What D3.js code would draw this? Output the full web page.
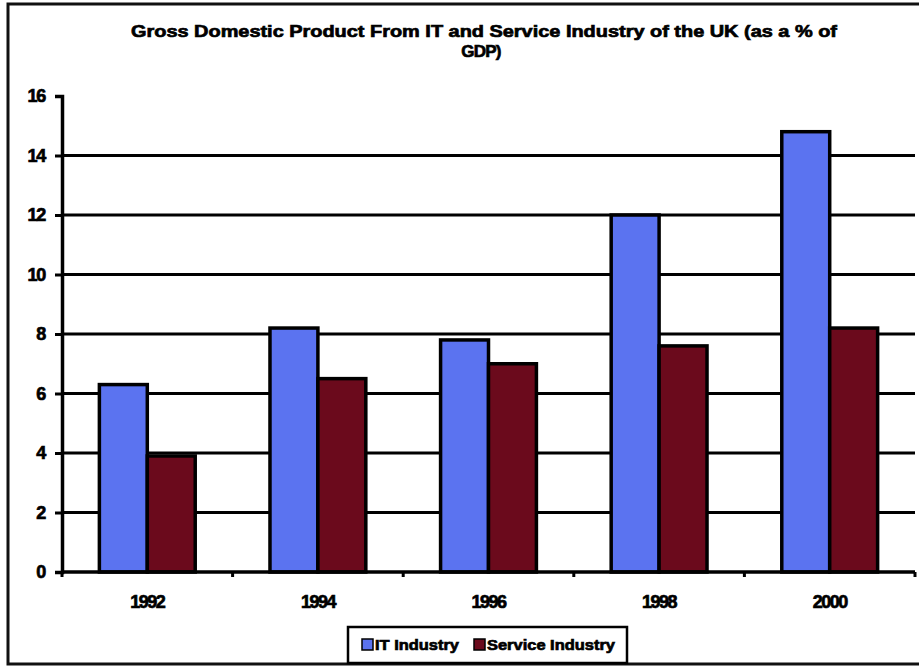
<!DOCTYPE html>
<html>
<head>
<meta charset="utf-8">
<script src="https://cdn.jsdelivr.net/npm/d3@7"></script>
<style>
  body { margin: 0; background: #fff; }
  text { font-family: "Liberation Sans", Arial, sans-serif; font-weight: bold; fill: #000; stroke: #000; stroke-width: 0.7px; }
</style>
</head>
<body>
<div id="chart"></div>
<script>
"use strict";

// Data
const years = ["1992", "1994", "1996", "1998", "2000"];
const seriesNames = ["IT Industry", "Service Industry"];
const itValues = [6.3, 8.2, 7.8, 12, 14.8];
const serviceValues = [3.9, 6.5, 7.0, 7.6, 8.2];
const yTicks = [0, 2, 4, 6, 8, 10, 12, 14, 16];

const colors = ["#5b73f0", "#6b0a1c"];

const width = 919;
const height = 667;
const margin = { top: 96, right: 4, bottom: 95, left: 62 };

const svg = d3.select("#chart")
  .append("svg")
  .attr("width", width)
  .attr("height", height);

// Outer frame
svg.append("rect")
  .attr("x", 8).attr("y", 4)
  .attr("width", 940).attr("height", 660)
  .attr("fill", "none")
  .attr("stroke", "#111")
  .attr("stroke-width", 3);

// Title (two lines)
svg.append("text")
  .attr("x", 484).attr("y", 37)
  .attr("text-anchor", "middle")
  .attr("textLength", 706)
  .attr("lengthAdjust", "spacingAndGlyphs")
  .style("font-size", "17px")
  .text("Gross Domestic Product From IT and Service Industry of the UK (as a % of");
svg.append("text")
  .attr("x", 481).attr("y", 57)
  .attr("text-anchor", "middle")
  .style("font-size", "17px")
  .style("letter-spacing", "-0.8px")
  .text("GDP)");

// Scales
const y = d3.scaleLinear()
  .domain([0, 16])
  .range([height - margin.bottom, margin.top]);

const x0 = d3.scaleBand()
  .domain(years)
  .range([margin.left, width - margin.right])
  .padding(0);

const x1 = d3.scaleBand()
  .domain(seriesNames)
  .range([0, x0.bandwidth()])
  .paddingInner(0)
  .paddingOuter(0.78);

// Gridlines (2 to 14)
svg.append("g")
  .selectAll("line")
  .data(yTicks.filter(d => d > 0 && d < 16))
  .join("line")
  .attr("x1", margin.left)
  .attr("x2", width - margin.right)
  .attr("y1", d => y(d))
  .attr("y2", d => y(d))
  .attr("stroke", "#000")
  .attr("stroke-width", 3);

// Bars
const rows = years.map((yr, i) => ({ year: yr, values: [itValues[i], serviceValues[i]] }));

svg.append("g")
  .selectAll("g")
  .data(rows)
  .join("g")
  .attr("transform", d => `translate(${x0(d.year)},0)`)
  .selectAll("rect")
  .data(d => d.values.map((v, j) => ({ key: seriesNames[j], value: v, idx: j })))
  .join("rect")
  .attr("x", d => x1(d.key))
  .attr("width", x1.bandwidth())
  .attr("y", d => y(d.value))
  .attr("height", d => y(0) - y(d.value))
  .attr("fill", d => colors[d.idx])
  .attr("stroke", "#000")
  .attr("stroke-width", 3.5);

// Y axis
const yAxis = svg.append("g")
  .attr("transform", `translate(${margin.left},0)`)
  .call(d3.axisLeft(y).tickValues(yTicks).tickSize(7).tickPadding(10));
yAxis.select(".domain").attr("stroke-width", 3.5);
yAxis.selectAll(".tick line").attr("stroke-width", 3);
yAxis.selectAll(".tick text")
  .attr("fill", "#000")
  .style("font-size", "18px")
  .style("letter-spacing", "-1.2px");

// X axis (ticks at band boundaries)
svg.append("line")
  .attr("x1", margin.left).attr("x2", width - margin.right)
  .attr("y1", y(0)).attr("y2", y(0))
  .attr("stroke", "#000").attr("stroke-width", 3.5);

const boundaries = years.map(d => x0(d)).concat([x0(years[years.length - 1]) + x0.bandwidth()]);
svg.append("g")
  .selectAll("line")
  .data(boundaries)
  .join("line")
  .attr("x1", d => d).attr("x2", d => d)
  .attr("y1", y(0)).attr("y2", y(0) + 5)
  .attr("stroke", "#000").attr("stroke-width", 3);

svg.append("g")
  .selectAll("text")
  .data(years)
  .join("text")
  .attr("x", d => x0(d) + x0.bandwidth() / 2)
  .attr("y", y(0) + 36)
  .attr("text-anchor", "middle")
  .style("font-size", "18px")
  .style("letter-spacing", "-1.5px")
  .text(d => d);

// Legend
const legend = svg.append("g");
legend.append("rect")
  .attr("x", 348).attr("y", 627)
  .attr("width", 279).attr("height", 36)
  .attr("fill", "#fff")
  .attr("stroke", "#000")
  .attr("stroke-width", 2.5);

const legendX = [362, 474];
const legendW = [84, 128];
const legendItems = legend.selectAll("g.item")
  .data(seriesNames)
  .join("g")
  .attr("class", "item")
  .attr("transform", (d, i) => `translate(${legendX[i]},639)`);

legendItems.append("rect")
  .attr("width", 11).attr("height", 11)
  .attr("fill", (d, i) => colors[i])
  .attr("stroke", "#000")
  .attr("stroke-width", 1.5);

legendItems.append("text")
  .attr("x", 13).attr("y", 11)
  .attr("textLength", (d, i) => legendW[i])
  .attr("lengthAdjust", "spacingAndGlyphs")
  .style("font-size", "15px")
  .text(d => d);
</script>
</body>
</html>
